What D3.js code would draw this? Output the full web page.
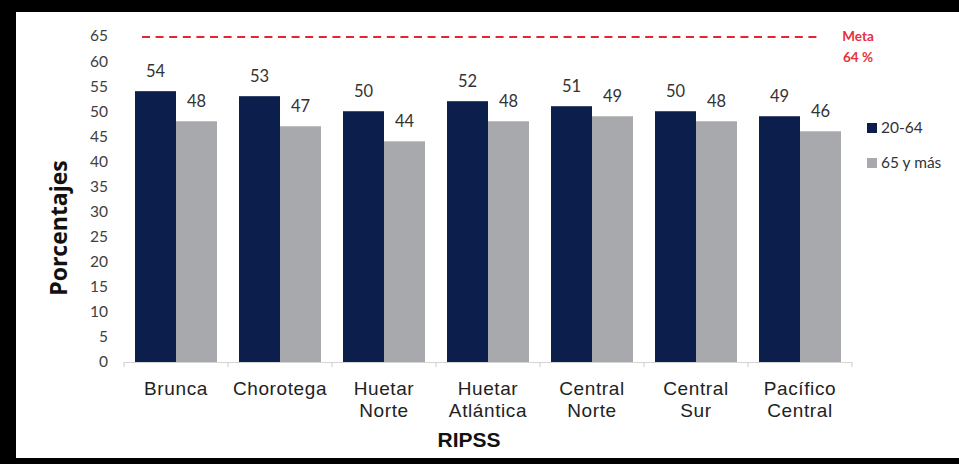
<!DOCTYPE html>
<html><head><meta charset="utf-8">
<script src="https://cdn.jsdelivr.net/npm/d3@7"></script>
<style>body{margin:0;background:#fff}svg{display:block}</style>
</head><body>
<svg id="c" width="959" height="464"></svg>
<script>
const categories = [["Brunca"],["Chorotega"],["Huetar","Norte"],["Huetar","Atlántica"],["Central","Norte"],["Central","Sur"],["Pacífico","Central"]];
const seriesNames = ["20-64","65 y más"];
const values2064 = [54,53,50,52,51,50,49];
const values65 = [48,47,44,48,49,48,46];
const yTicks = [0,5,10,15,20,25,30,35,40,45,50,55,60,65];
const metaLine = 65;
const metaLabel = ["Meta","64 %"];
const colors = ["#0c1e4c","#a7a9ac"];

const svg = d3.select("#c");
svg.append("rect").attr("width",959).attr("height",464).attr("fill","#fff");

const x0 = d3.scaleBand().domain(d3.range(categories.length)).range([124,852]).paddingInner(0).paddingOuter(0);
const x1 = d3.scaleBand().domain([0,1]).range([11, x0.bandwidth()-11]);
const y = d3.scaleLinear().domain([0,65]).range([362,36]);

// y tick labels
svg.append("g").selectAll("text").data(yTicks).join("text")
  .attr("x",108).attr("y",d=>y(d)).attr("dy","0.35em").attr("text-anchor","end")
  .attr("font-family","Lato, 'Open Sans', sans-serif").attr("font-size",15.5).attr("fill","#404040")
  .text(d=>d);

// bars
const series = [values2064, values65];
const g = svg.append("g");
categories.forEach((c,i)=>{
  series.forEach((vals,s)=>{
    const bx = x0(i)+x1(s);
    g.append("rect").attr("x",bx).attr("y",y(vals[i])).attr("width",x1.bandwidth())
      .attr("height",y(0)-y(vals[i])).attr("fill",colors[s]);
    g.append("text").attr("x",bx+x1.bandwidth()/2).attr("y",y(vals[i])-20).attr("dy","0.35em")
      .attr("text-anchor","middle").attr("font-family","Lato, 'Open Sans', sans-serif")
      .attr("font-size",16.5).attr("fill","#333").text(vals[i]);
  });
});

// x axis line and ticks
const ax = svg.append("g").attr("stroke","#d4d4d4").attr("stroke-width",1.2);
ax.append("line").attr("x1",124).attr("x2",852).attr("y1",y(0)+0.5).attr("y2",y(0)+0.5);
d3.range(categories.length+1).forEach(i=>{
  const xx = i<categories.length ? x0(i) : 852;
  ax.append("line").attr("x1",xx).attr("x2",xx).attr("y1",y(0)).attr("y2",y(0)+5);
});

// category labels
categories.forEach((c,i)=>{
  const t = svg.append("text").attr("text-anchor","middle")
    .attr("font-family","'Liberation Sans', Arial, sans-serif").attr("font-size",19)
    .attr("letter-spacing","0.6px").attr("fill","#222");
  c.forEach((line,k)=>{
    t.append("tspan").attr("x",x0(i)+x0.bandwidth()/2).attr("y",388+k*22).attr("dy","0.35em").text(line);
  });
});

// axis titles
svg.append("text").attr("x",469).attr("y",440).attr("dy","0.35em").attr("text-anchor","middle")
  .attr("font-family","'Liberation Sans', Arial, sans-serif").attr("font-weight","bold").attr("font-size",21)
  .attr("fill","#111").text("RIPSS");
svg.append("text").attr("transform","translate(59,228) rotate(-90)").attr("dy","0.35em").attr("text-anchor","middle")
  .attr("font-family","'Open Sans', 'Noto Sans', sans-serif").attr("font-weight","bold").attr("font-size",23)
  .attr("fill","#111").text("Porcentajes");

// meta line
svg.append("line").attr("x1",142).attr("x2",817).attr("y1",y(metaLine)+1).attr("y2",y(metaLine)+1)
  .attr("stroke","#e5262f").attr("stroke-width",2).attr("stroke-dasharray","8,5.6");
metaLabel.forEach((t,k)=>{
  svg.append("text").attr("x",858).attr("y",36+k*21).attr("dy","0.35em").attr("text-anchor","middle")
    .attr("font-family","Lato, 'Open Sans', sans-serif").attr("font-size",13.5).attr("font-weight","bold")
    .attr("fill","#e5303c").text(t);
});

// legend
seriesNames.forEach((n,k)=>{
  const cy = 128+k*35;
  svg.append("rect").attr("x",867).attr("y",cy-5).attr("width",10).attr("height",10).attr("fill",colors[k]);
  svg.append("text").attr("x",881).attr("y",cy).attr("dy","0.35em")
    .attr("font-family","Lato, 'Open Sans', sans-serif").attr("font-size",15.5).attr("fill","#333").text(n);
});

// frame
svg.append("rect").attr("x",0).attr("y",0).attr("width",959).attr("height",12).attr("fill","#000");
svg.append("rect").attr("x",0).attr("y",0).attr("width",16).attr("height",464).attr("fill","#000");
svg.append("rect").attr("x",0).attr("y",458).attr("width",959).attr("height",6).attr("fill","#000");
</script>
</body></html>
